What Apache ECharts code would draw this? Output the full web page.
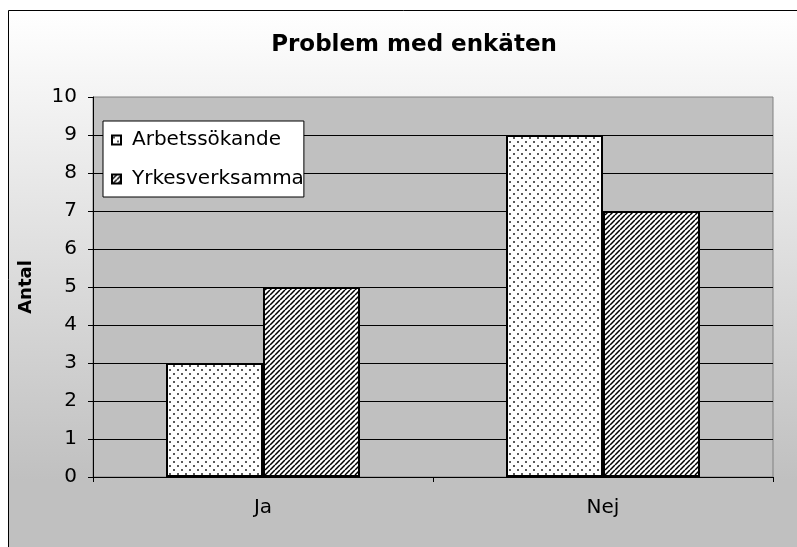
<!DOCTYPE html>
<html>
<head>
<meta charset="utf-8">
<script src="https://cdn.jsdelivr.net/npm/echarts@6/dist/echarts.min.js"></script>
<style>
  html, body { margin: 0; padding: 0; background: #fff; }
  #chart { width: 797px; height: 547px; }
</style>
</head>
<body>
<div id="chart"></div>
<script>
// ==================== Data ====================
const categories = ['Ja', 'Nej'];
const seriesNames = ['Arbetssökande', 'Yrkesverksamma'];
const arbetssokande = [3, 9];
const yrkesverksamma = [5, 7];

const FONT = 'DejaVu Sans, Liberation Sans, Arial, sans-serif';

// ==================== Fill patterns ====================
function dotPattern() {
    const c = document.createElement('canvas');
    c.width = 8; c.height = 8;
    const ctx = c.getContext('2d');
    ctx.fillStyle = '#fff';
    ctx.fillRect(0, 0, 8, 8);
    ctx.fillStyle = '#5a5a5a';
    ctx.fillRect(1, 1, 2, 2);
    ctx.fillRect(5, 5, 2, 2);
    return c;
}

function hatchPattern() {
    const s = 5;
    const c = document.createElement('canvas');
    c.width = s; c.height = s;
    const ctx = c.getContext('2d');
    ctx.fillStyle = '#fff';
    ctx.fillRect(0, 0, s, s);
    ctx.strokeStyle = '#000';
    ctx.lineWidth = 1.5;
    ctx.beginPath();
    // "/" stripes
    [-s, 0, s].forEach(k => {
        ctx.moveTo(k, s);
        ctx.lineTo(k + s, 0);
    });
    ctx.stroke();
    return c;
}

const dots = { image: dotPattern(), repeat: 'repeat' };
const hatch = { image: hatchPattern(), repeat: 'repeat' };

// ==================== Chart ====================
const chart = echarts.init(document.getElementById('chart'));
chart.setOption({
    animation: false,
    textStyle: { fontFamily: FONT },
    graphic: [{
        type: 'rect',
        z: -10,
        silent: true,
        shape: { x: 8.5, y: 10.5, width: 800, height: 540 },
        style: {
            fill: {
                type: 'linear', x: 0, y: 0, x2: 0, y2: 1,
                colorStops: [
                    { offset: 0, color: '#ffffff' },
                    { offset: 0.87, color: '#c0c0c0' },
                    { offset: 1, color: '#c0c0c0' }
                ]
            },
            stroke: '#000',
            lineWidth: 1
        }
    }],
    title: {
        text: 'Problem med enkäten',
        left: 409,
        textAlign: 'center',
        top: 29,
        textStyle: { fontSize: 23, fontWeight: 'bold', color: '#000', fontFamily: FONT }
    },
    legend: {
        orient: 'vertical',
        left: 103,
        top: 121,
        backgroundColor: '#fff',
        borderColor: '#000',
        borderWidth: 1,
        borderRadius: 0,
        padding: [9, 0, 8, 8],
        itemGap: 19,
        itemWidth: 9,
        itemHeight: 9,
        icon: 'rect',
        textStyle: { fontSize: 20, color: '#000', fontFamily: FONT, padding: [0, 0, 0, 6] },
        data: seriesNames
    },
    grid: {
        left: 93, right: 24, top: 97, bottom: 70,
        show: true,
        backgroundColor: '#c0c0c0',
        borderColor: '#808080',
        borderWidth: 1
    },
    xAxis: {
        type: 'category',
        data: categories,
        axisLine: { lineStyle: { color: '#000', width: 1 } },
        axisTick: { show: true, length: 5, lineStyle: { color: '#000' } },
        axisLabel: { fontSize: 20, color: '#000', margin: 21, fontFamily: FONT }
    },
    yAxis: {
        type: 'value',
        min: 0, max: 10, interval: 1,
        name: 'Antal',
        nameLocation: 'middle',
        nameRotate: 90,
        nameGap: 58,
        nameTextStyle: { fontSize: 18, fontWeight: 'bold', color: '#000', fontFamily: FONT },
        axisLine: { show: true, lineStyle: { color: '#000', width: 1 } },
        axisTick: { show: true, length: 5, lineStyle: { color: '#000' } },
        axisLabel: { fontSize: 20, color: '#000', margin: 16, fontFamily: FONT },
        splitLine: { showMaxLine: false, lineStyle: { color: '#000', width: 1 } }
    },
    series: [
        {
            name: seriesNames[0],
            type: 'bar',
            data: arbetssokande,
            barWidth: 97,
            barGap: '0%',
            itemStyle: { color: dots, borderColor: '#000', borderWidth: 2 }
        },
        {
            name: seriesNames[1],
            type: 'bar',
            data: yrkesverksamma,
            barWidth: 97,
            barGap: '0%',
            itemStyle: { color: hatch, borderColor: '#000', borderWidth: 2 }
        }
    ]
});
</script>
</body>
</html>
